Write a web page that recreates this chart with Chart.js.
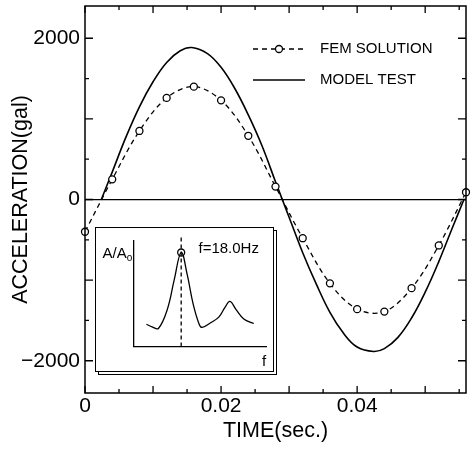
<!DOCTYPE html>
<html>
<head>
<meta charset="utf-8">
<script src="https://cdn.jsdelivr.net/npm/chart.js@4.4.0/dist/chart.umd.min.js"></script>
<style>
  html, body { margin: 0; padding: 0; background: #fff; }
  #wrap { position: relative; width: 474px; height: 454px; }
  #main { position: absolute; left: 0; top: 0; }
  .card { position: absolute; width: 179px; height: 145px; box-sizing: border-box; border: 1.5px solid #000; background: #fff; }
  #back { left: 98px; top: 230px; }
  #front { left: 95px; top: 227px; }
  #inset { position: absolute; left: 0; top: 0; }
</style>
</head>
<body>
<div id="wrap">
  <canvas id="main" width="474" height="454"></canvas>
  <div class="card" id="back"></div>
  <div class="card" id="front"><canvas id="inset" width="176" height="142"></canvas></div>
</div>
<script>
// FEM solution (circles, dashed)
const femTime = [0, 0.004, 0.008, 0.012, 0.016, 0.020, 0.024, 0.028, 0.032, 0.036, 0.040, 0.044, 0.048, 0.052, 0.056];
const femAcc  = [-400, 250, 850, 1260, 1400, 1230, 790, 160, -480, -1040, -1360, -1390, -1100, -570, 90];

// model test (solid)
const modelTime = [0.0024, 0.004, 0.006, 0.008, 0.010, 0.012, 0.014, 0.0157, 0.018, 0.020, 0.022, 0.024, 0.026, 0.028, 0.029,
                   0.030, 0.032, 0.034, 0.036, 0.038, 0.040, 0.0424, 0.044, 0.046, 0.048, 0.050, 0.052, 0.054, 0.0557];
const modelAcc  = [0, 340, 770, 1150, 1460, 1700, 1845, 1885, 1810, 1640, 1380, 1050, 670, 220, 0,
                   -220, -660, -1050, -1400, -1660, -1830, -1885, -1850, -1710, -1470, -1150, -770, -350, 0];

const legendLabels = ['FEM SOLUTION', 'MODEL TEST'];

// tick marks (every 0.005 s / 500 gal) and the labelled ones
const xTicks = [0, 0.005, 0.01, 0.015, 0.02, 0.025, 0.03, 0.035, 0.04, 0.045, 0.05, 0.055];
const xLabelValues = [0, 0.02, 0.04];
const xLabelText   = ['0', '0.02', '0.04'];
const yTicks = [-2000, -1500, -1000, -500, 0, 500, 1000, 1500, 2000];
const yLabelValues = [-2000, 0, 2000];
const yLabelText   = ['\u22122000', '0', '2000'];

// inset: spectrum A/Ao vs f
const insetF = [9.7, 14, 18.7, 25.4, 30.6, 35.8, 40.3, 44.8, 49.3, 51.5, 58.2, 64.2, 68.7, 72.4, 76.9, 82.8, 90.3];
const insetA = [21, 18.5, 17, 35, 63, 88.7, 68, 40, 21, 18, 22.6, 28, 37, 42.5, 35, 26, 21.7];
const peakF = 35.8;
const peakA = 88.7;
const insetText = ['A/A', 'o', 'f=18.0Hz', 'f'];

const FONT = '"Liberation Sans", Arial, Helvetica, sans-serif';

function pickLabel(v, vals, txt) {
  for (let i = 0; i < vals.length; i++) {
    if (Math.abs(v - vals[i]) < 1e-9) return txt[i];
  }
  return '';
}

// frame + inward ticks on all four sides
const frameTicks = {
  id: 'frameTicks',
  afterDraw(chart) {
    const { ctx, chartArea: a, scales } = chart;
    ctx.save();
    ctx.setLineDash([]);
    ctx.strokeStyle = '#000';
    ctx.lineWidth = 1.5;
    ctx.strokeRect(a.left, a.top, a.right - a.left, a.bottom - a.top);
    ctx.lineWidth = 1.3;
    ctx.beginPath();
    xTicks.forEach((v, i) => {
      const len = i % 2 === 0 ? 7 : 4;
      const px = scales.x.getPixelForValue(v);
      ctx.moveTo(px, a.bottom); ctx.lineTo(px, a.bottom - len);
      ctx.moveTo(px, a.top); ctx.lineTo(px, a.top + len);
    });
    yTicks.forEach((v, i) => {
      const len = i % 2 === 0 ? 8 : 4;
      const py = scales.y.getPixelForValue(v);
      ctx.moveTo(a.left, py); ctx.lineTo(a.left + len, py);
      ctx.moveTo(a.right, py); ctx.lineTo(a.right - len, py);
    });
    ctx.stroke();
    ctx.restore();
  }
};

// legend inside the plot
const innerLegend = {
  id: 'innerLegend',
  afterDraw(chart) {
    const ctx = chart.ctx;
    const rows = [49, 80];
    ctx.save();
    chart.data.datasets.forEach((ds, i) => {
      const y = rows[i];
      ctx.strokeStyle = '#000';
      ctx.lineWidth = ds.borderWidth;
      ctx.setLineDash(ds.borderDash || []);
      ctx.beginPath();
      ctx.moveTo(253, y); ctx.lineTo(305, y);
      ctx.stroke();
      ctx.setLineDash([]);
      if (ds.pointRadius > 0) {
        ctx.beginPath();
        ctx.arc(279, y, ds.pointRadius, 0, Math.PI * 2);
        ctx.fillStyle = '#fff';
        ctx.fill();
        ctx.lineWidth = ds.pointBorderWidth;
        ctx.stroke();
      }
      ctx.fillStyle = '#000';
      ctx.font = '15px ' + FONT;
      ctx.textBaseline = 'middle';
      ctx.fillText(legendLabels[i], 320, y);
    });
    ctx.restore();
  }
};

new Chart(document.getElementById('main'), {
  type: 'line',
  data: {
    datasets: [
      {
        label: legendLabels[0],
        data: femTime.map((t, i) => ({ x: t, y: femAcc[i] })),
        borderColor: '#000',
        borderWidth: 1.3,
        borderDash: [5, 4],
        pointRadius: 3.5,
        pointBackgroundColor: '#fff',
        pointBorderColor: '#000',
        pointBorderWidth: 1.3,
        tension: 0.35,
        clip: false,
        order: 0
      },
      {
        label: legendLabels[1],
        data: modelTime.map((t, i) => ({ x: t, y: modelAcc[i] })),
        borderColor: '#000',
        borderWidth: 1.6,
        pointRadius: 0,
        tension: 0.4,
        clip: false,
        order: 1
      }
    ]
  },
  options: {
    responsive: false,
    animation: false,
    layout: { padding: { top: 6, right: 8, left: 0, bottom: 0 } },
    plugins: { legend: { display: false }, tooltip: { enabled: false } },
    scales: {
      x: {
        type: 'linear',
        min: 0,
        max: 0.056,
        afterBuildTicks(s) { s.ticks = xLabelValues.map(v => ({ value: v })); },
        ticks: {
          autoSkip: false,
          maxRotation: 0,
          padding: 1,
          color: '#000',
          font: { family: FONT, size: 21 },
          callback: v => pickLabel(v, xLabelValues, xLabelText)
        },
        grid: { display: false, drawTicks: false },
        border: { display: false },
        title: { display: true, text: 'TIME(sec.)', color: '#000', font: { family: FONT, size: 21.5 }, padding: { top: 0, bottom: 10 } },
        afterFit(s) { s.height = 61; s.paddingLeft = 0; s.paddingRight = 0; }
      },
      y: {
        min: -2400,
        max: 2400,
        afterBuildTicks(s) { s.ticks = yLabelValues.map(v => ({ value: v })); },
        ticks: {
          autoSkip: false,
          padding: 5,
          color: '#000',
          font: { family: FONT, size: 21 },
          callback: v => pickLabel(v, yLabelValues, yLabelText)
        },
        grid: {
          drawTicks: false,
          lineWidth: 1.2,
          color: c => (c.tick && c.tick.value === 0 ? '#000' : 'rgba(0,0,0,0)')
        },
        border: { display: false },
        title: { display: true, text: 'ACCELERATION(gal)', color: '#000', font: { family: FONT, size: 21.5 }, padding: { top: 8, bottom: 0 } },
        afterFit(s) { s.width = 85; s.paddingTop = 0; s.paddingBottom = 0; }
      }
    }
  },
  plugins: [frameTicks, innerLegend]
});

// inset labels
const insetLabels = {
  id: 'insetLabels',
  afterDraw(chart) {
    const ctx = chart.ctx;
    ctx.save();
    ctx.fillStyle = '#000';
    ctx.textBaseline = 'alphabetic';
    ctx.font = '15px ' + FONT;
    ctx.fillText(insetText[0], 6.5, 30);
    const w = ctx.measureText(insetText[0]).width;
    ctx.font = '10px ' + FONT;
    ctx.fillText(insetText[1], 6.5 + w, 33);
    ctx.font = '15px ' + FONT;
    ctx.fillText(insetText[2], 102.5, 25);
    ctx.fillText(insetText[3], 166, 138);
    ctx.restore();
  }
};

new Chart(document.getElementById('inset'), {
  type: 'line',
  data: {
    datasets: [
      {
        data: insetF.map((f, i) => ({ x: f, y: insetA[i] })),
        borderColor: '#000',
        borderWidth: 1.3,
        pointRadius: 0,
        tension: 0.4
      },
      {
        data: [{ x: peakF, y: 0 }, { x: peakF, y: 104 }],
        borderColor: '#000',
        borderWidth: 1.3,
        borderDash: [4, 3],
        pointRadius: 0,
        clip: false
      },
      {
        data: [{ x: peakF, y: peakA }],
        showLine: false,
        pointRadius: 3.5,
        pointBackgroundColor: '#fff',
        pointBorderColor: '#000',
        pointBorderWidth: 1.3,
        clip: false
      }
    ]
  },
  options: {
    responsive: false,
    animation: false,
    layout: { padding: { left: 37.5, right: 4.5, top: 12.5, bottom: 23.5 } },
    plugins: { legend: { display: false }, tooltip: { enabled: false } },
    scales: {
      x: {
        type: 'linear', min: 0, max: 100,
        ticks: { display: false },
        grid: { display: false },
        border: { display: true, color: '#000', width: 1.3 },
        afterFit(s) { s.height = 0; }
      },
      y: {
        min: 0, max: 100,
        ticks: { display: false },
        grid: { display: false },
        border: { display: true, color: '#000', width: 1.3 },
        afterFit(s) { s.width = 0; }
      }
    }
  },
  plugins: [insetLabels]
});
</script>
</body>
</html>
